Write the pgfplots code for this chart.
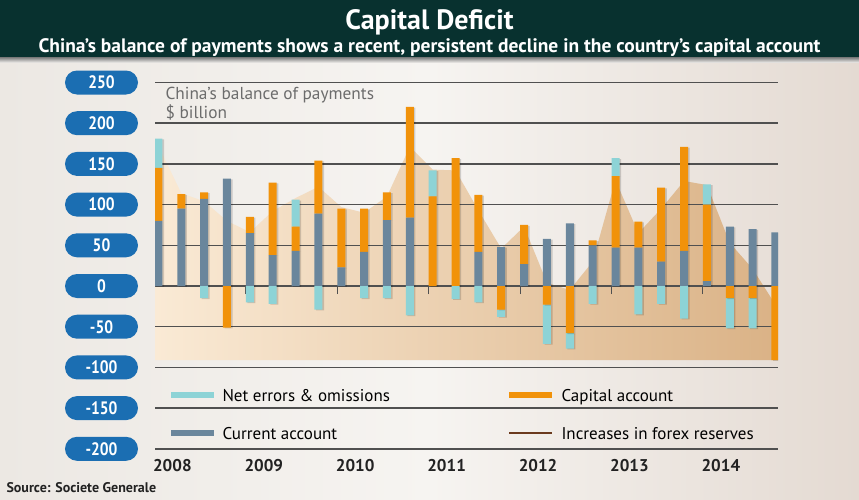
\documentclass[border=0pt]{standalone}
\usepackage{pgfplots}
\pgfplotsset{compat=1.18}
\usepackage{pgfplotstable}
\usepackage{fontspec}
\setmainfont{PT Sans}
\newfontfamily\narrowfont{PT Sans}[FakeStretch=0.86]

\definecolor{headerc}{RGB}{8,49,47}
\definecolor{bgL}{RGB}{236,232,227}
\definecolor{bgM}{RGB}{246,244,241}
\definecolor{bgR}{RGB}{228,218,210}
\definecolor{areaL}{RGB}{250,234,213}
\definecolor{areaR}{RGB}{218,178,134}
\definecolor{gridc}{RGB}{80,80,80}
\definecolor{pill}{RGB}{27,110,178}
\definecolor{errc}{RGB}{141,211,214}
\definecolor{capc}{RGB}{241,146,10}
\definecolor{curc}{RGB}{106,134,156}
\definecolor{resc}{RGB}{107,58,30}
\definecolor{capt}{RGB}{108,108,108}
\definecolor{yearc}{RGB}{34,34,34}

% Quarterly balance of payments, $ billion (2008Q1 = 0)
% ca: current account; capp/capn: capital account (positive/negative part);
% errp/errn: net errors & omissions (positive/negative part)
\pgfplotstableread{
q  ca  capp errp capn errn
0  80  65   36   0    0
1  95  18   0    0    0
2  107 8    0    0    -15
3  132 0    0    -51  0
4  65  20   0    0    -20
5  38  89   0    0    -22
6  43  30   33   0    0
7  89  65   0    0    -29
8  23  72   0    0    0
9  42  53   0    0    -15
10 81  34   0    0    -15
11 84  136  0    0    -36
12 0   110  32   0    0
13 0   157  0    0    -16
14 42  70   0    0    -20
15 48  0    0    -29  -9
16 27  48   0    0    0
17 58  0    0    -23  -48
18 77  0    0    -58  -19
19 50  6    0    0    -22
20 47  88   22   0    0
21 47  32   0    0    -35
22 30  91   0    0    -22
23 43  128  0    0    -40
24 6   94   25   0    0
25 73  0    0    -15  -37
26 70  0    0    -15  -37
27 66  0    0    -91  0
}\bopdata

% Increases in forex reserves, drawn as a band down to the panel floor
\pgfplotstableread{
q      res
-0.15  -91
-0.15  176
0      172
1      114
2      104
3      80
4      66
5      92
6      108
7      122
8      97
9      90
10     110
11     171
12     143
13     142
14     93
15     46
16     73
17     4
18     -5
19     30
20     130
21     65
22     95
23     129
24     124
25     53
26     21
27     -23
27.11  -26
27.11  -91
}\reserves

\pgfplotsset{
  panel/.style={
    at={(155pt,50.2pt)}, anchor=south west, scale only axis,
    width=623pt, height=366.3pt,
    xmin=-0.15, xmax=27.11, ymin=-200, ymax=250,
  },
  barshadow/.style={preaction={fill=black, opacity=0.16,
      transform canvas={xshift=1.6pt, yshift=-0.8pt}}},
}

\begin{document}
\begin{tikzpicture}[x=1pt,y=1pt]
% page background and header band
\shade[left color=bgL, right color=bgR, middle color=bgM] (0,0) rectangle (859,499);
\fill[headerc] (0,441) rectangle (859,499);
\shade[top color=black!45, bottom color=bgM] (0,436) rectangle (859,441);
\node[anchor=base, white, font=\bfseries\fontsize{28}{30}\selectfont]
  at (429.5,469) {Capital Deficit};
\node[anchor=base, white, font=\bfseries\fontsize{19.5}{21}\selectfont]
  at (429.5,446) {China’s balance of payments shows a recent, persistent decline in the country’s capital account};

% grid, tick labels and the forex reserves band
\begin{axis}[panel,
  axis on top,
  axis line style={draw=none},
  major tick length=0pt,
  ytick={-200,-150,-100,-50,0,50,100,150,200,250},
  yticklabels={-200,-150,-100,-50,0,50,100,150,200,250},
  ymajorgrids,
  major grid style={gridc, line width=1.5pt},
  yticklabel style={anchor=east, xshift=-17pt, fill=pill, text=white,
    rounded corners=12pt, minimum width=73pt, minimum height=24pt,
    inner sep=0pt, outer sep=0pt,
    font=\narrowfont\bfseries\fontsize{18}{20}\selectfont},
  xtick={0.61,4.61,8.61,12.61,16.61,20.61,24.61},
  xticklabels={2008,2009,2010,2011,2012,2013,2014},
  xticklabel style={anchor=base, yshift=-22.2pt, text=yearc,
    font=\bfseries\fontsize{17}{19}\selectfont},
]
\addplot[draw=none, left color=areaL, right color=areaR] table[x=q, y=res] {\reserves};
\end{axis}

% positive parts, stacked up from zero
\begin{axis}[panel, hide axis, ybar stacked, bar width=8pt]
\addplot[draw=none, fill=curc, barshadow] table[x=q, y=ca] {\bopdata};
\addplot[draw=none, fill=capc, barshadow] table[x=q, y=capp] {\bopdata};
\addplot[draw=none, fill=errc, barshadow] table[x=q, y=errp] {\bopdata};
\end{axis}

% negative parts, stacked down from zero, with the year boundary ticks
\begin{axis}[panel, ybar stacked, bar width=8pt,
  axis x line=middle, axis y line=none,
  axis line style={draw=none},
  xtick={-0.175,3.825,7.825,11.825,15.825,19.825,23.825},
  xticklabels={},
  xtick align=outside, major tick length=8pt,
  tick style={gridc, line width=1pt},
]
\addplot[draw=none, fill=capc, barshadow] table[x=q, y=capn] {\bopdata};
\addplot[draw=none, fill=errc, barshadow] table[x=q, y=errn] {\bopdata};
\end{axis}

% chart caption inside the panel
\node[anchor=base west, text=capt, font=\fontsize{17.3}{19}\selectfont] at (162,399) {China’s balance of payments};
\node[anchor=base west, text=capt, font=\fontsize{17.3}{19}\selectfont] at (162,380) {\$ billion};

% legend
\fill[errc] (171,101) rectangle (214,107);
\node[anchor=base west, font=\fontsize{17}{19}\selectfont] at (219,98) {Net errors \& omissions};
\fill[capc] (509,101) rectangle (552,107);
\node[anchor=base west, font=\fontsize{17}{19}\selectfont] at (558,98) {Capital account};
\fill[curc] (171,63) rectangle (214,69);
\node[anchor=base west, font=\fontsize{17}{19}\selectfont] at (219,60) {Current account};
\draw[resc, line width=1.3pt] (509,66) -- (552,66);
\node[anchor=base west, font=\fontsize{17}{19}\selectfont] at (558,60) {Increases in forex reserves};

% source line
\node[anchor=base west, text=yearc, font=\bfseries\fontsize{14}{16}\selectfont] at (3,7) {Source: Societe Generale};
\end{tikzpicture}
\end{document}
